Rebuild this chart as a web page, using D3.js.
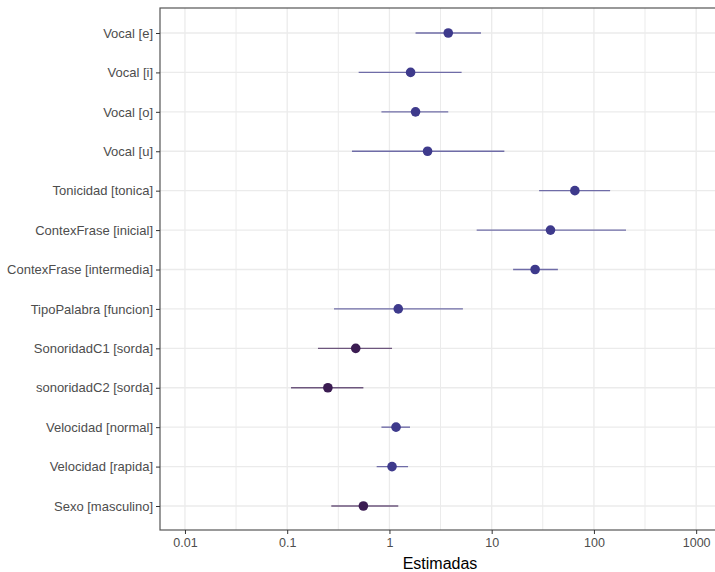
<!DOCTYPE html>
<html><head><meta charset="utf-8">
<script src="https://cdn.jsdelivr.net/npm/d3@7"></script>
<style>body{margin:0;background:#fff}svg{display:block}text{font-family:"Liberation Sans",Arial,sans-serif}</style>
</head><body><svg id="c" width="715" height="572"></svg>
<script>
const terms = ["Vocal [e]","Vocal [i]","Vocal [o]","Vocal [u]","Tonicidad [tonica]","ContexFrase [inicial]","ContexFrase [intermedia]","TipoPalabra [funcion]","SonoridadC1 [sorda]","sonoridadC2 [sorda]","Velocidad [normal]","Velocidad [rapida]","Sexo [masculino]"];
const estimate = [3.76,1.61,1.80,2.36,65.1,37.6,26.6,1.22,0.468,0.25,1.16,1.06,0.556];
const ciLow =   [1.80,0.50,0.835,0.43,29.1,7.13,16.2,0.287,0.20,0.109,0.835,0.75,0.27];
const ciHigh =  [7.86,5.08,3.76,13.3,144,206,44.4,5.23,1.06,0.556,1.59,1.52,1.22];
const xTicks = [0.01,0.1,1,10,100,1000];
const xTickLabels = ["0.01","0.1","1","10","100","1000"];
const minorTicks = [0.0316,0.316,3.16,31.6,316];

const svg = d3.select("#c");
const L = 160, R = 716, T = 8, B = 530;
const x = d3.scaleLog().domain([0.0057, 1563]).range([L, R]);
const y = d3.scalePoint().domain(terms).range([T + 25, B - 24]);

const g = svg.append("g");
// grid
g.selectAll(".gmin").data(minorTicks).join("line")
  .attr("x1", d => x(d)).attr("x2", d => x(d)).attr("y1", T).attr("y2", B)
  .attr("stroke", "#ebebeb").attr("stroke-width", 1);
g.selectAll(".gmaj").data(xTicks).join("line")
  .attr("x1", d => x(d)).attr("x2", d => x(d)).attr("y1", T).attr("y2", B)
  .attr("stroke", "#ebebeb").attr("stroke-width", 1.3);
g.selectAll(".gy").data(terms).join("line")
  .attr("x1", L).attr("x2", R).attr("y1", d => y(d)).attr("y2", d => y(d))
  .attr("stroke", "#ebebeb").attr("stroke-width", 1.3);

// border
g.append("rect").attr("x", L).attr("y", T).attr("width", R - L).attr("height", B - T)
  .attr("fill", "none").attr("stroke", "#555").attr("stroke-width", 1.2);

// axes
const xa = svg.append("g").attr("transform", `translate(0,${B})`)
  .call(d3.axisBottom(x).tickValues(xTicks).tickFormat((d,i) => xTickLabels[i]).tickSize(4).tickPadding(4));
xa.select(".domain").remove();
xa.selectAll("line").attr("stroke", "#333");
xa.selectAll("text").attr("fill", "#4d4d4d").style("font-size", "12.5px");

const ya = svg.append("g").attr("transform", `translate(${L},0)`)
  .call(d3.axisLeft(y).tickSize(4).tickPadding(3));
ya.select(".domain").remove();
ya.selectAll("line").attr("stroke", "#333");
ya.selectAll("text").attr("fill", "#4d4d4d").style("font-size", "13px");

const data = terms.map((t,i) => ({t, e: estimate[i], lo: ciLow[i], hi: ciHigh[i]}));
const col = d => d.e >= 1 ? "#3e3a8c" : "#3b1c52";
const pg = svg.append("g");
pg.selectAll(".ci").data(data).join("line")
  .attr("x1", d => x(d.lo)).attr("x2", d => x(d.hi))
  .attr("y1", d => y(d.t)).attr("y2", d => y(d.t))
  .attr("stroke", col).attr("stroke-opacity", 0.72).attr("stroke-width", 1.4);
pg.selectAll(".pt").data(data).join("circle")
  .attr("cx", d => x(d.e)).attr("cy", d => y(d.t)).attr("r", 4.8)
  .attr("fill", col);

svg.append("text").attr("x", 440).attr("y", 569).attr("text-anchor", "middle")
  .style("font-size", "16px").attr("fill", "#000").text("Estimadas");
</script></body></html>
